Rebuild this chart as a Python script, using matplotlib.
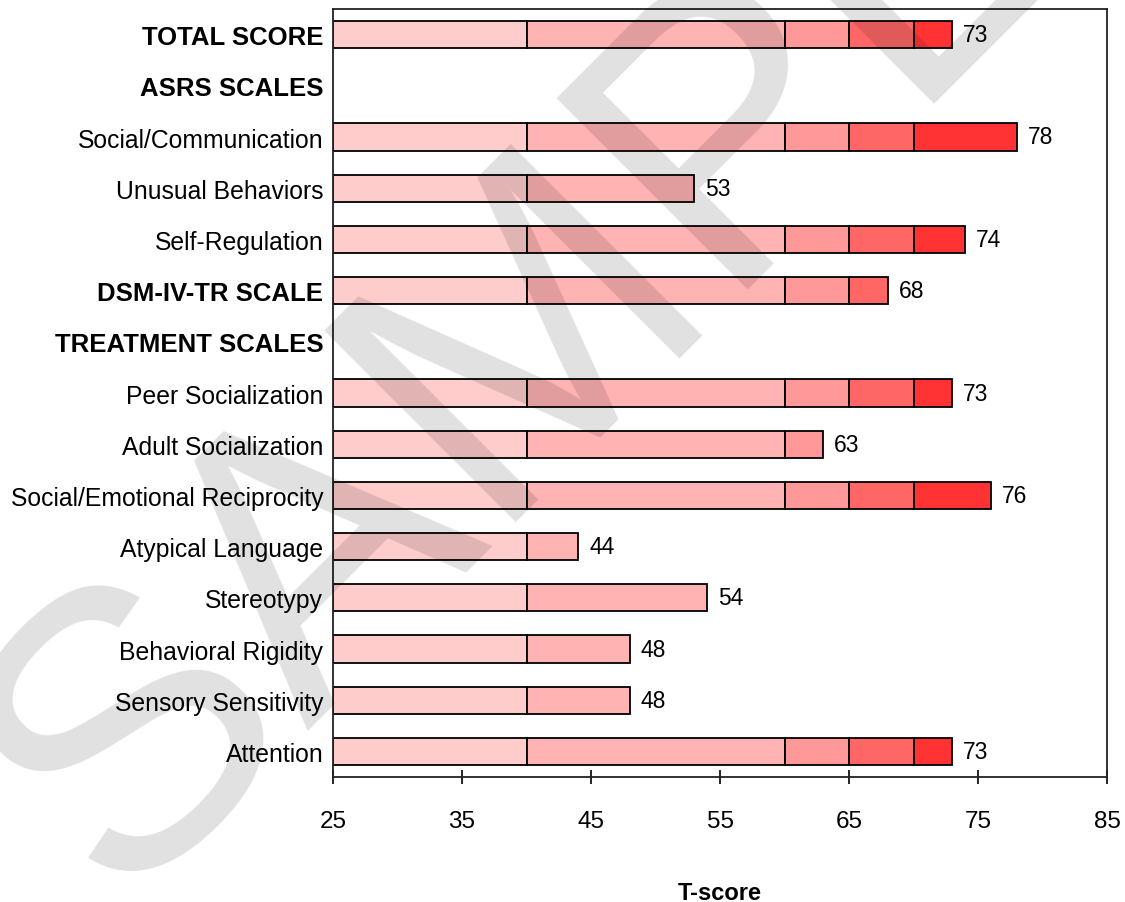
import matplotlib
matplotlib.use("Agg")
import matplotlib.pyplot as plt

# rows top to bottom, None = heading row with no bar
labels = ["TOTAL SCORE", "ASRS SCALES", "Social/Communication", "Unusual Behaviors",
          "Self-Regulation", "DSM-IV-TR SCALE", "TREATMENT SCALES", "Peer Socialization",
          "Adult Socialization", "Social/Emotional Reciprocity", "Atypical Language",
          "Stereotypy", "Behavioral Rigidity", "Sensory Sensitivity", "Attention"]
scores = [73, None, 78, 53, 74, 68, None, 73, 63, 76, 44, 54, 48, 48, 73]
bold_rows = ["TOTAL SCORE", "ASRS SCALES", "DSM-IV-TR SCALE", "TREATMENT SCALES"]

# band edges and colours of the stacked segments
bands = [25, 40, 60, 65, 70, 200]
band_colors = ["#FFCCCC", "#FFB3B3", "#FF9999", "#FF6666", "#FF3333"]
xticks = [25, 35, 45, 55, 65, 75, 85]

plt.rcParams['font.family'] = ['Liberation Sans', 'DejaVu Sans']

fig = plt.figure(figsize=(11.25, 9.03), dpi=100)
ax = fig.add_axes([333/1125, 1 - 778/903, (1107-333)/1125, (778-10)/903])

for i, s in enumerate(scores):
    if s is None:
        continue
    for j in range(len(band_colors)):
        lo = bands[j]
        hi = min(bands[j+1], s)
        if hi <= lo:
            break
        ax.barh(i, hi - lo, left=lo, height=0.53, color=band_colors[j],
                edgecolor="black", linewidth=1.3)
    ax.text(s + 0.85, i, str(s), va="center", ha="left", fontsize=16.5)

ax.set_xlim(25, 85)
ax.set_ylim(14.5, -0.5)
ax.set_xticks(xticks)
ax.set_xticklabels([str(t) for t in xticks], fontsize=17.5)
ax.tick_params(axis="x", direction="inout", length=10, width=1.2, pad=19)
ax.set_yticks(range(len(labels)))
ax.set_yticklabels(labels, fontsize=17.8)
ax.tick_params(axis="y", length=0, pad=7)
for lab in ax.get_yticklabels():
    if lab.get_text() in bold_rows:
        lab.set_fontweight("bold")
        lab.set_fontsize(18.5)

ax.set_xlabel("T-score", fontsize=17, fontweight="bold")
ax.xaxis.set_label_coords(0.5, -0.135)

for sp in ax.spines.values():
    sp.set_linewidth(1.3)
    sp.set_color("#222222")

# watermark, anchored at the start of its baseline
fig.text(116/1125, 1 - 904/903, "SAMPLE", fontsize=284, color="black", alpha=0.12,
         rotation=45, rotation_mode="anchor", ha="left", va="baseline", zorder=10)

fig.savefig("out.png", dpi=100)
